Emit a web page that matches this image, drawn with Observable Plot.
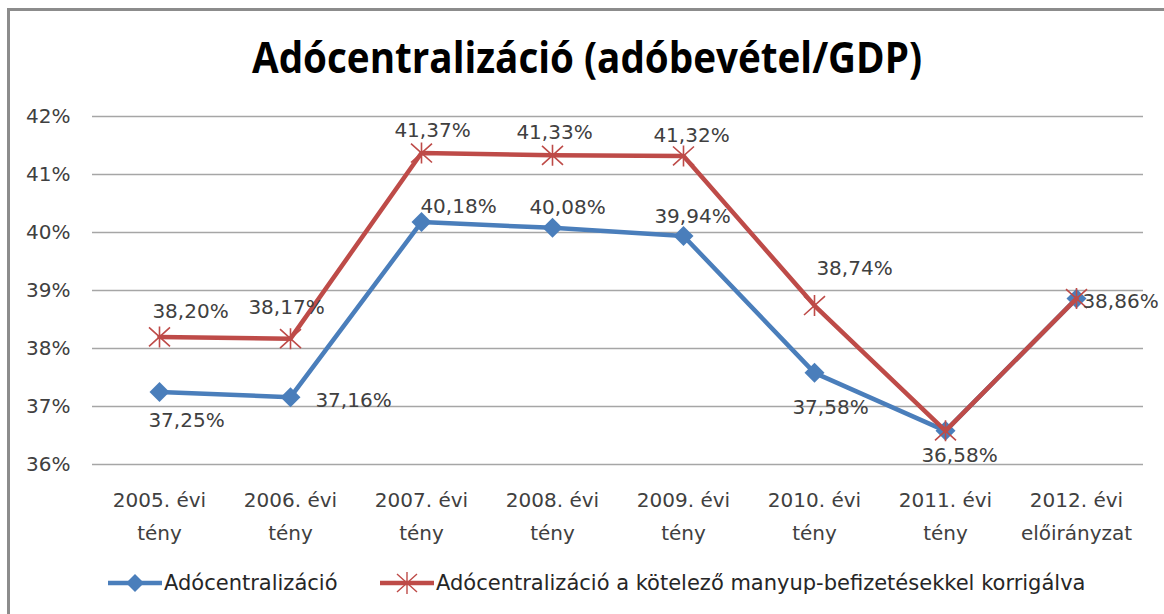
<!DOCTYPE html>
<html>
<head>
<meta charset="utf-8">
<script src="https://cdn.jsdelivr.net/npm/d3@7"></script>
<script src="https://cdn.jsdelivr.net/npm/@observablehq/plot@0.6"></script>
<style>
  html, body { margin: 0; padding: 0; background: #fff; }
  #wrap { position: relative; width: 1164px; height: 614px; overflow: hidden; background: #fff; }
  #frame { position: absolute; left: 7px; top: 8px; width: 1300px; height: 800px;
           border-left: 3px solid #8c8c8c; border-top: 3px solid #8c8c8c; box-sizing: border-box; }
  #chart { position: absolute; left: 0; top: 0; }
  #title { position: absolute; left: 0; top: 0; }
  .leg { position: absolute; top: 570px; height: 26px; display: flex; align-items: center;
         font-family: "DejaVu Sans", sans-serif; font-size: 21px; color: #262626; white-space: nowrap; }
  .leg svg { display: block; margin-right: 2px; }
</style>
</head>
<body>
<div id="wrap">
  <div id="frame"></div>
  <div id="chart"></div>
  <svg id="title" width="1164" height="100">
    <text x="587" y="73" text-anchor="middle" font-family="Open Sans, sans-serif" font-weight="bold"
          font-size="43" fill="#000" textLength="670" lengthAdjust="spacingAndGlyphs">Adócentralizáció (adóbevétel/GDP)</text>
  </svg>
  <div id="legend"></div>
</div>
<script>
// ---- data ----
const categories = [
  "2005. évi\ntény", "2006. évi\ntény", "2007. évi\ntény", "2008. évi\ntény",
  "2009. évi\ntény", "2010. évi\ntény", "2011. évi\ntény", "2012. évi\nelőirányzat"
];
const seriesNames = [
  "Adócentralizáció",
  "Adócentralizáció a kötelező manyup-befizetésekkel korrigálva"
];
const adocentralizacio = [37.25, 37.16, 40.18, 40.08, 39.94, 37.58, 36.58, 38.86];
const korrigalt        = [38.20, 38.17, 41.37, 41.33, 41.32, 38.74, 36.58, 38.86];
const yTicks = [36, 37, 38, 39, 40, 41, 42];

// ---- label placement (layout only, pixel offsets from each point) ----
const blueLabelOffsets = [[27, 29], [63, 3], [37, -15], [15, -20], [9, -19], [16, 35], [14, 25], [44, 3]];
const redLabelOffsets  = [[31, -25], [-4, -31], [11, -22], [2, -23], [8, -20], [40, -37], null, null];

const blue = "#4a7ebb";
const red = "#be4b48";
const textColor = "#404040";

const blueData = categories.map((c, i) => ({cat: c, value: adocentralizacio[i]}));
const redData = categories.map((c, i) => ({cat: c, value: korrigalt[i]}));
const fmt = v => v.toFixed(2).replace(".", ",") + "%";

// Excel-like star marker: X plus vertical bar
const starSymbol = {
  draw(context, size) {
    const r = Math.sqrt(size / Math.PI);
    context.moveTo(-r, -r * 0.9); context.lineTo(r, r * 0.9);
    context.moveTo(-r, r * 0.9); context.lineTo(r, -r * 0.9);
    context.moveTo(0, -r); context.lineTo(0, r);
  }
};

function labelMarks(data, offsets) {
  const marks = [];
  data.forEach((d, i) => {
    const o = offsets[i];
    if (!o) return;
    marks.push(Plot.text([d], {
      x: "cat", y: "value", text: d => fmt(d.value),
      dx: o[0], dy: o[1], fill: textColor, fontSize: 20, textAnchor: "middle"
    }));
  });
  return marks;
}

const chart = Plot.plot({
  width: 1164,
  height: 614,
  marginLeft: 92,
  marginRight: 21,
  marginTop: 116,
  marginBottom: 150,
  style: {fontFamily: "DejaVu Sans, sans-serif", fontSize: "20px", color: textColor, background: "transparent", overflow: "visible"},
  x: {type: "point", domain: categories, padding: 0.5, axis: null},
  y: {domain: [36, 42], axis: null},
  marks: [
    Plot.ruleY(yTicks, {stroke: "#a6a6a6", strokeWidth: 1.4}),
    Plot.axisY(yTicks, {tickSize: 0, tickPadding: 22, tickFormat: d => d + "%", fontSize: 20, fill: textColor, label: null}),
    Plot.text(categories, {x: d => d, y: () => 36, text: d => d, lineAnchor: "top", dy: 19,
      lineHeight: 1.65, fill: textColor, fontSize: 20}),
    Plot.line(blueData, {x: "cat", y: "value", stroke: blue, strokeWidth: 4.5}),
    Plot.dot(blueData, {x: "cat", y: "value", symbol: "diamond2", r: 9, fill: blue, stroke: "none"}),
    Plot.line(redData, {x: "cat", y: "value", stroke: red, strokeWidth: 4.5}),
    Plot.dot(redData, {x: "cat", y: "value", symbol: starSymbol, r: 10.5, fill: "none", stroke: red, strokeWidth: 1.6}),
    ...labelMarks(blueData, blueLabelOffsets),
    ...labelMarks(redData, redLabelOffsets)
  ]
});
document.getElementById("chart").appendChild(chart);

// ---- legend ----
const legend = document.getElementById("legend");
const legendItems = [
  {name: seriesNames[0], color: blue, marker: "diamond", left: 108},
  {name: seriesNames[1], color: red, marker: "star", left: 380}
];
legendItems.forEach(item => {
  const div = document.createElement("div");
  div.className = "leg";
  div.style.left = item.left + "px";
  let markerSvg;
  if (item.marker === "diamond") {
    markerSvg = `<polygon points="27,4 36,13 27,22 18,13" fill="${item.color}"/>`;
  } else {
    markerSvg = `<path d="M17,4 L37,22 M17,22 L37,4 M27,2 L27,24" stroke="${item.color}" stroke-width="1.4" fill="none"/>`;
  }
  div.innerHTML = `<svg width="54" height="26"><line x1="0" y1="13" x2="54" y2="13" stroke="${item.color}" stroke-width="4.5"/>${markerSvg}</svg><span>${item.name}</span>`;
  legend.appendChild(div);
});
</script>
</body>
</html>
